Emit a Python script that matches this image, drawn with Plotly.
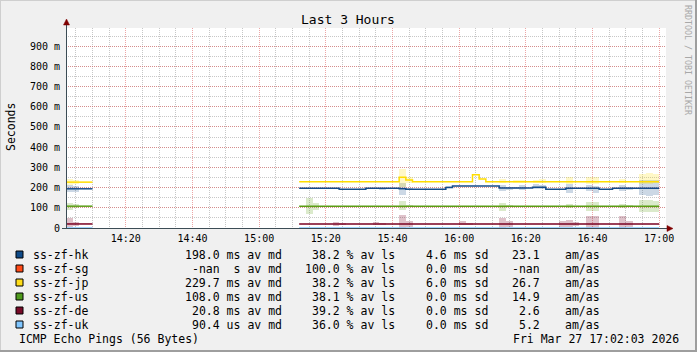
import plotly.graph_objects as go
from datetime import datetime, timedelta

# ---------------- data ----------------
START = datetime(2026, 3, 27, 14, 2, 0)
STEP_MIN = 2
N_BINS = 89
GAP_BINS = 31  # bins 4..34 have no data

# medians (ms) : segment A = bins 0-3, segment B = bins 35-88
hk_A = [194, 194, 194, 194]
hk_B = [197, 197, 197, 197, 197, 197, 192, 192, 192, 192, 197, 197, 197, 197, 197,
        194, 192, 192, 192, 192, 192, 192, 200, 208, 208, 208, 208, 208, 208, 208,
        198, 198, 198, 198, 198, 202, 202, 192, 192, 192, 197, 197, 197, 197, 197,
        192, 192, 197, 197, 197, 197, 197, 197, 197]
jp_A = [227, 227, 227, 227]
jp_B = [229, 229, 229, 229, 229, 229, 229, 229, 229, 229, 229, 229, 229, 229, 229,
        251, 238, 229, 229, 229, 229, 229, 229, 229, 229, 229, 263, 243, 229, 229,
        229, 229, 229, 229, 229, 229, 229, 229, 229, 229, 229, 229, 229, 229, 229,
        229, 229, 229, 229, 229, 229, 229, 229, 229]
us_A = [108, 108, 108, 108]
us_B = [108] * 54
de_A = [20, 20, 20, 20]
de_B = [20] * 54
uk_A = [0.09, 0.09, 0.09, 0.09]
uk_B = [0.09] * 54

# smoke ranges (ms) per bin index
hk_smoke_bins = [0, 1, 47, 50, 51, 57, 65, 66, 67, 68, 70, 71, 75, 78, 79, 83, 84, 86, 87, 88]
hk_smoke_lo = [176, 180, 189, 161, 188, 197, 185, 190, 194, 188, 194, 195, 174, 181, 171, 185, 190, 165, 160, 162]
hk_smoke_hi = [213, 208, 197, 222, 200, 207, 214, 204, 205, 212, 217, 212, 220, 214, 210, 214, 204, 238, 240, 236]

jp_smoke_bins = [0, 1, 50, 51, 65, 67, 68, 70, 71, 75, 78, 79, 83, 86, 87, 88]
jp_smoke_lo = [214, 216, 205, 225, 222, 224, 224, 222, 222, 220, 220, 220, 222, 220, 218, 222]
jp_smoke_hi = [243, 240, 292, 252, 243, 238, 240, 240, 241, 253, 250, 250, 243, 268, 272, 266]

us_smoke_bins = [0, 1, 36, 37, 50, 51, 65, 66, 75, 78, 79, 83, 84, 86, 87, 88]
us_smoke_lo = [90, 97, 69, 87, 89, 102, 85, 102, 99, 85, 85, 99, 102, 80, 78, 80]
us_smoke_hi = [126, 118, 148, 126, 134, 115, 124, 115, 121, 128, 128, 121, 115, 138, 140, 136]

de_smoke_bins = [0, 1, 40, 41, 46, 47, 50, 51, 59, 60, 65, 66, 74, 75, 76, 78, 79, 83, 84]
de_smoke_lo = [5, 8, 8, 14, 16, 13, 0, 7, 13, 16, 0, 7, 7, 3, 10, 0, 0, 0, 7]
de_smoke_hi = [49, 32, 32, 26, 30, 25, 62, 33, 33, 26, 49, 33, 33, 42, 28, 57, 60, 57, 33]

y_tickvals = [0, 0.1, 0.2, 0.3, 0.4, 0.5, 0.6, 0.7, 0.8, 0.9]
y_ticktext = ["0", "100 m", "200 m", "300 m", "400 m", "500 m", "600 m", "700 m", "800 m", "900 m"]

legend_names = ["ss-zf-hk", "ss-zf-sg", "ss-zf-jp", "ss-zf-us", "ss-zf-de", "ss-zf-uk"]
legend_colors = ["#0E4A88", "#FF4A17", "#FFDD1A", "#4E9A1C", "#780A28", "#80C6FF"]
legend_median = ["198.0 ms av md", "-nan  s av md", "229.7 ms av md", "108.0 ms av md", "20.8 ms av md", "90.4 us av md"]
legend_loss = ["38.2 % av ls", "100.0 % av ls", "38.2 % av ls", "38.1 % av ls", "39.2 % av ls", "36.0 % av ls"]
legend_sd = ["4.6 ms sd", "0.0 ms sd", "6.0 ms sd", "0.0 ms sd", "0.0 ms sd", "0.0 ms sd"]
legend_amas = ["23.1", "-nan", "26.7", "14.9", "2.6", "5.2"]

# ---------------- helpers ----------------
bin_start = [START + timedelta(minutes=STEP_MIN * i) for i in range(N_BINS)]
bin_end = START + timedelta(minutes=STEP_MIN * N_BINS)


def full(a, b):
    return a + [None] * GAP_BINS + b


def step_xy(vals):
    xs, ys = [], []
    prev = None
    for i, v in enumerate(vals):
        if v is None:
            if prev is not None:
                xs.append(bin_start[i]); ys.append(prev)
                xs.append(bin_start[i]); ys.append(None)
            prev = None
            continue
        xs.append(bin_start[i]); ys.append(v / 1000.0)
        prev = v / 1000.0
    if prev is not None:
        xs.append(bin_end); ys.append(prev)
    return xs, ys


W, H = 697, 352
L, R, T, B = 66, 31, 28, 124
PW, PH = W - L - R, H - T - B


def px(x):
    return (x - L) / PW


def py(y):
    return (H - B - y) / PH


FONT = "DejaVu Sans Mono"

fig = go.Figure()

series = [
    ("hk", full(hk_A, hk_B), "#164C8A", "rgba(22,76,138,0.22)", hk_smoke_bins, hk_smoke_lo, hk_smoke_hi),
    ("jp", full(jp_A, jp_B), "#FFDD00", "rgba(255,221,0,0.22)", jp_smoke_bins, jp_smoke_lo, jp_smoke_hi),
    ("us", full(us_A, us_B), "#5A9E14", "rgba(90,158,20,0.22)", us_smoke_bins, us_smoke_lo, us_smoke_hi),
    ("de", full(de_A, de_B), "#7A0022", "rgba(122,0,34,0.24)", de_smoke_bins, de_smoke_lo, de_smoke_hi),
]

for name, vals, lc, sc, sb, slo, shi in series:
    fig.add_trace(go.Bar(
        x=[bin_start[i] + timedelta(minutes=STEP_MIN / 2) for i in sb],
        y=[(h - l) / 1000.0 for l, h in zip(slo, shi)],
        base=[l / 1000.0 for l in slo],
        width=STEP_MIN * 60 * 1000,
        marker=dict(color=sc, line=dict(width=0)),
        showlegend=False, hoverinfo="skip"))

for name, vals, lc, sc, sb, slo, shi in series:
    xs, ys = step_xy(vals)
    fig.add_trace(go.Scatter(x=xs, y=ys, mode="lines", line=dict(color=lc, width=1.5, shape="hv"),
                             showlegend=False, hoverinfo="skip", connectgaps=False))

xs, ys = step_xy(full(uk_A, uk_B))
fig.add_trace(go.Scatter(x=xs, y=ys, mode="lines", line=dict(color="#80C6FF", width=1.5, shape="hv"),
                         showlegend=False, hoverinfo="skip"))

MGRID = "rgba(222,93,93,0.55)"
GRID = "rgba(143,143,143,0.5)"

fig.update_layout(
    width=W, height=H,
    margin=dict(l=L, r=R, t=T, b=B, pad=0),
    paper_bgcolor="#F0F0F0", plot_bgcolor="#FFFFFF",
    barmode="overlay", bargap=0,
    font=dict(family=FONT, color="#000000", size=10),
    xaxis=dict(
        type="date",
        range=[START + timedelta(seconds=3), START + timedelta(hours=3, seconds=3)],
        tick0="2026-03-27 14:00:00", dtick=20 * 60 * 1000, tickformat="%H:%M",
        showgrid=True, gridcolor=MGRID, griddash="1px,1px", gridwidth=1,
        minor=dict(dtick=5 * 60 * 1000, tick0="2026-03-27 14:00:00", showgrid=True,
                   gridcolor=GRID, griddash="1px,1px", gridwidth=1),
        zeroline=False, showline=False, ticks="", ticklabelstandoff=3,
        tickfont=dict(family=FONT, size=10, color="#000000"), fixedrange=True),
    yaxis=dict(
        range=[0, 0.99], tickmode="array", tickvals=y_tickvals, ticktext=y_ticktext,
        showgrid=True, gridcolor=MGRID, griddash="1px,1px", gridwidth=1,
        minor=dict(dtick=0.05, tick0=0, showgrid=True, gridcolor=GRID, griddash="1px,1px", gridwidth=1),
        zeroline=False, showline=False, ticks="", ticklabelstandoff=5,
        tickfont=dict(family=FONT, size=10, color="#000000"), fixedrange=True),
)

shapes = []
AXIS = "#3C4C55"
ARROW = "#7F0000"
# axis lines
shapes.append(dict(type="line", xref="paper", yref="paper", x0=px(66.5), x1=px(66.5), y0=py(228.5), y1=py(24),
                   line=dict(color=AXIS, width=1), layer="above"))
shapes.append(dict(type="line", xref="paper", yref="paper", x0=px(62), x1=px(669), y0=py(228.5), y1=py(228.5),
                   line=dict(color=AXIS, width=1), layer="above"))
# arrows
shapes.append(dict(type="path", xref="paper", yref="paper",
                   path=f"M {px(63.5)} {py(25)} L {px(69.5)} {py(25)} L {px(66.5)} {py(19)} Z",
                   fillcolor=ARROW, line=dict(color=ARROW, width=0.5), layer="above"))
shapes.append(dict(type="path", xref="paper", yref="paper",
                   path=f"M {px(667)} {py(225.5)} L {px(667)} {py(231.5)} L {px(673)} {py(228.5)} Z",
                   fillcolor=ARROW, line=dict(color=ARROW, width=0.5), layer="above"))
# frame shading
shapes.append(dict(type="line", xref="paper", yref="paper", x0=px(0), x1=px(697), y0=py(0.5), y1=py(0.5),
                   line=dict(color="#CFCFCF", width=1)))
shapes.append(dict(type="line", xref="paper", yref="paper", x0=px(0.5), x1=px(0.5), y0=py(0), y1=py(352),
                   line=dict(color="#CFCFCF", width=1)))
shapes.append(dict(type="line", xref="paper", yref="paper", x0=px(0), x1=px(697), y0=py(351), y1=py(351),
                   line=dict(color="#9E9E9E", width=2)))
shapes.append(dict(type="line", xref="paper", yref="paper", x0=px(696), x1=px(696), y0=py(0), y1=py(352),
                   line=dict(color="#9E9E9E", width=2)))

annotations = []


def txt(x, y, s, size=11.5, anchor="left", color="#000000", angle=0):
    annotations.append(dict(x=px(x), y=py(y), xref="paper", yref="paper", text=s, showarrow=False,
                            xanchor=anchor, yanchor="middle", textangle=angle,
                            font=dict(family=FONT, size=size, color=color)))


txt(347.5, 19, "Last 3 Hours", size=13, anchor="center")
txt(10.5, 127.5, "Seconds", size=11.5, anchor="center", angle=-90)
txt(688, 60, "RRDTOOL / TOBI OETIKER", size=8.3, anchor="center", color="#A8A8A8", angle=90)

row_y0 = 254.5
for k in range(len(legend_names)):
    yy = row_y0 + 14 * k
    shapes.append(dict(type="rect", xref="paper", yref="paper",
                       x0=px(16), x1=px(23), y0=py(yy - 3.5), y1=py(yy + 3.5),
                       fillcolor=legend_colors[k], line=dict(color="#000000", width=1)))
    txt(31, yy, legend_names[k])
    txt(283.5, yy, legend_median[k], anchor="right")
    txt(397, yy, legend_loss[k], anchor="right")
    txt(490, yy, legend_sd[k], anchor="right")
    txt(541.5, yy, legend_amas[k], anchor="right")
    txt(562.5, yy, "am/as")

txt(17, 338.5, "ICMP Echo Pings (56 Bytes)")
txt(680.5, 338.5, "Fri Mar 27 17:02:03 2026", anchor="right")

fig.update_layout(shapes=shapes, annotations=annotations)

fig.write_html("out.html")
